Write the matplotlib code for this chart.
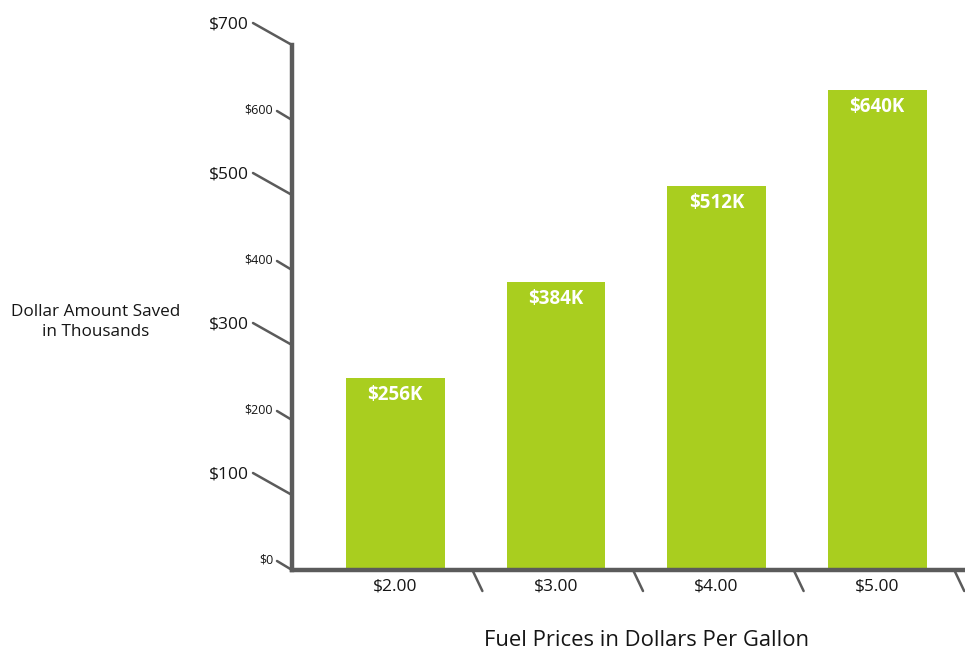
import matplotlib
matplotlib.use('Agg')
import matplotlib.pyplot as plt

plt.rcParams['font.family'] = ['Open Sans', 'DejaVu Sans']

# data
prices = ['$2.00', '$3.00', '$4.00', '$5.00']
saved = [256, 384, 512, 640]
bar_labels = ['$256K', '$384K', '$512K', '$640K']
y_ticks = [0, 100, 200, 300, 400, 500, 600, 700]
y_tick_labels = ['$0', '$100', '$200', '$300', '$400', '$500', '$600', '$700']

green = '#a9ce1f'
axis_grey = '#5b5b5b'
text_col = '#151515'

fig = plt.figure(figsize=(9.65, 6.54), dpi=100)
ax = fig.add_axes([292 / 965, 1 - 570 / 654, 673 / 965, 525 / 654])

x = list(range(len(prices)))
ax.bar(x, saved, width=0.615, color=green, zorder=2)
ax.set_xlim(-0.643, 3.547)
ax.set_ylim(0, 700)

for s in ['top', 'right']:
    ax.spines[s].set_visible(False)
for s in ['left', 'bottom']:
    ax.spines[s].set_color(axis_grey)
    ax.spines[s].set_linewidth(3.2)
    ax.spines[s].set_zorder(3)
ax.set_xticks([])
ax.set_yticks([])

# slanted y ticks, big and small labels alternate
for i, (v, lab) in enumerate(zip(y_ticks, y_tick_labels)):
    big = i % 2 == 1
    dx, dy = (-39, 22) if big else (-15, 9)
    ax.annotate('', xy=(0, v), xycoords=('axes fraction', 'data'),
                xytext=(dx, dy), textcoords='offset pixels',
                arrowprops=dict(arrowstyle='-', color=axis_grey, lw=1.8,
                                shrinkA=0, shrinkB=0), annotation_clip=False)
    tx, ty = (-43, 21) if big else (-19, 10)
    ax.annotate(lab, xy=(0, v), xycoords=('axes fraction', 'data'),
                xytext=(tx, ty), textcoords='offset pixels',
                ha='right', va='center', fontsize=12.5 if big else 9,
                color=text_col, annotation_clip=False)

# slanted x ticks between bars
for i in x:
    ax.annotate('', xy=(i + 0.48, 0), xycoords=('data', 'axes fraction'),
                xytext=(10, -21), textcoords='offset pixels',
                arrowprops=dict(arrowstyle='-', color=axis_grey, lw=1.8,
                                shrinkA=0, shrinkB=0), annotation_clip=False)
    ax.annotate(prices[i], xy=(i, 0), xycoords=('data', 'axes fraction'),
                xytext=(0, -16), textcoords='offset pixels',
                ha='center', va='center', fontsize=12.5, color=text_col,
                annotation_clip=False)

# value labels inside bars
for i, (v, lab) in enumerate(zip(saved, bar_labels)):
    ax.annotate(lab, xy=(i, v), xytext=(0, -17), textcoords='offset pixels',
                ha='center', va='center', fontsize=13.5, fontweight='bold',
                color='white')

fig.text(96 / 965, 1 - 322 / 654, 'Dollar Amount Saved\nin Thousands',
         ha='center', va='center', multialignment='center', fontsize=12.3,
         color=text_col, linespacing=1.35)
fig.text(646 / 965, 1 - 640 / 654, 'Fuel Prices in Dollars Per Gallon',
         ha='center', va='center', fontsize=15.8, color=text_col)

fig.savefig('out.png', dpi=100, facecolor='white')
